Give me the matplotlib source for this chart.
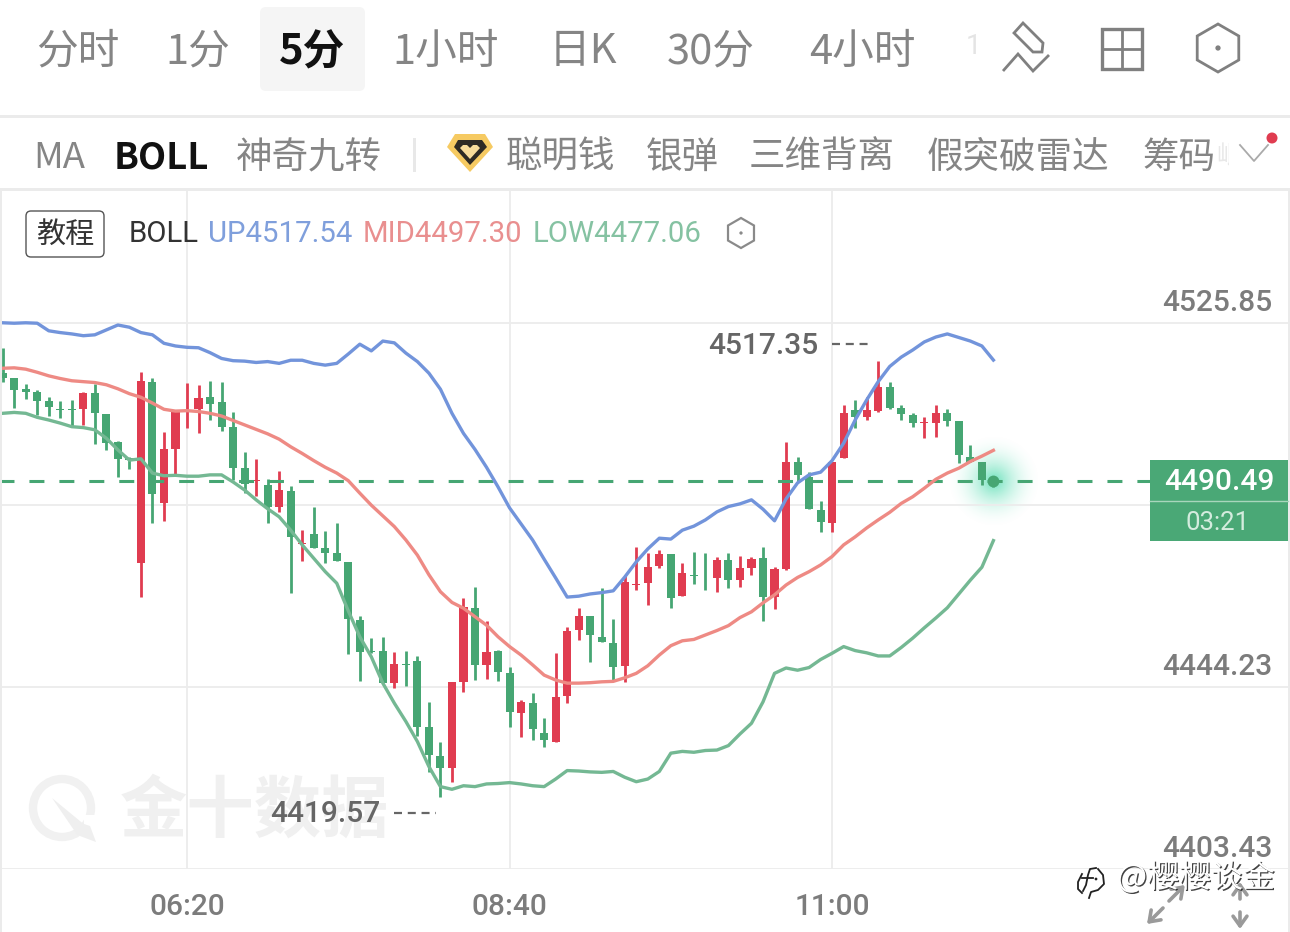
import numpy as np
import matplotlib
matplotlib.use("Agg")
import matplotlib.pyplot as plt
from matplotlib.patches import FancyBboxPatch, Rectangle, Polygon, Circle
from matplotlib.transforms import ScaledTranslation
import matplotlib.patheffects as pe

CJK = ['Noto Sans CJK SC', 'DejaVu Sans']
NUM = ['Roboto', 'DejaVu Sans']
plt.rcParams['font.family'] = CJK

# ---------------- data ----------------
index = list(range(-16, 71))
highs = [4520.3,4513.5,4512.2,4510.8,4509.3,4508.4,4508.6,4510.4,4512.2,4505.5,
         4499.4,4495.8,4514.9,4513.5,4501.4,4505.9,4512.4,4512.0,4512.9,4512.6,
         4505.9,4496.9,4495.4,4490.9,4492.7,4489.3,4479.4,4484.6,4479.2,4481.0,
         4472.3,4460.2,4455.2,4455.5,4452.1,4452.3,4451.2,4440.9,4431.9,4445.4,
         4464.2,4466.7,4459.0,4452.5,4448.7,4441.3,4442.9,4437.3,4451.9,4457.7,
         4462.0,4460.2,4466.5,4459.5,4469.4,4475.7,4474.3,4475.0,4474.1,4472.0,
         4474.5,4474.3,4473.4,4474.3,4473.6,4473.4,4475.7,4471.2,4499.2,4495.8,
         4492.5,4486.0,4494.7,4507.5,4508.6,4509.3,4517.35,4512.6,4507.5,4505.7,
         4504.8,4507.5,4506.6,4503.9,4498.5,4494.7,4491.1]
lows = [4512.6,4506.8,4508.8,4505.2,4505.0,4504.6,4502.6,4503.0,4498.7,4497.4,
        4491.3,4493.1,4464.4,4481.0,4481.5,4491.8,4502.3,4501.2,4504.1,4501.6,
        4490.7,4487.8,4487.1,4481.0,4483.5,4465.3,4472.5,4475.4,4472.0,4472.5,
        4451.6,4445.6,4451.9,4445.1,4444.0,4444.5,4433.3,4425.2,4419.57,4423.0,
        4443.1,4445.8,4446.1,4445.6,4435.3,4433.1,4432.4,4430.8,4431.9,4440.7,
        4454.8,4449.9,4454.3,4445.8,4445.4,4466.0,4462.6,4470.9,4462.0,4464.6,
        4467.3,4466.0,4465.6,4466.4,4466.7,4469.3,4459.0,4461.7,4470.5,4490.2,
        4484.1,4479.0,4479.0,4495.6,4502.3,4504.1,4505.9,4506.6,4504.1,4502.5,
        4500.1,4500.3,4502.8,4494.5,4494.7,4489.6,4489.1]
opens = [4514.6,4513.5,4511.1,4510.4,4508.4,4506.6,4506.6,4506.6,4510.2,4505.5,
         4499.2,4495.6,4472.0,4512.6,4485.5,4497.6,4506.1,4506.6,4509.3,4508.1,
         4502.5,4493.4,4490.4,4489.6,4484.6,4488.2,4476.3,4478.6,4475.4,4474.3,
         4472.3,4459.3,4452.3,4452.3,4445.1,4449.4,4450.1,4435.3,4428.8,4426.1,
         4445.4,4462.0,4449.2,4452.3,4447.4,4438.4,4440.7,4433.9,4431.9,4442.2,
         4457.0,4460.2,4455.5,4454.1,4449.0,4467.1,4467.6,4471.4,4474.1,4464.6,
         4469.4,4469.0,4468.7,4472.7,4468.2,4470.9,4473.2,4464.4,4470.7,4494.7,
         4491.3,4483.9,4481.0,4495.6,4506.3,4504.8,4506.1,4511.5,4506.8,4505.2,
         4503.4,4503.4,4505.7,4503.9,4495.8,4494.7,4491.1]
closes = [4513.5,4510.8,4510.4,4508.4,4507.0,4506.3,4506.4,4510.2,4505.7,4499.0,
          4495.4,4495.1,4512.9,4487.5,4497.6,4505.9,4506.3,4509.1,4507.7,4502.5,
          4493.4,4489.8,4490.7,4484.6,4488.4,4477.9,4476.5,4475.4,4474.3,4472.5,
          4459.5,4452.1,4452.1,4445.1,4449.4,4449.2,4435.3,4429.0,4426.1,4445.4,
          4462.2,4449.2,4452.1,4447.6,4438.6,4440.9,4434.8,4432.4,4442.0,4456.8,
          4460.2,4455.9,4454.3,4448.7,4467.8,4467.3,4471.2,4474.1,4464.2,4469.8,
          4469.1,4468.8,4472.7,4468.2,4470.9,4473.0,4464.4,4470.7,4494.7,4491.8,
          4484.1,4481.3,4494.7,4505.7,4504.8,4506.3,4511.5,4506.8,4505.5,4503.4,
          4503.6,4505.7,4503.9,4496.3,4494.7,4490.7,4490.49]
boll_up = [4525.9,4525.8,4525.9,4525.8,4524.1,4523.7,4523.4,4523.0,4523.2,4524.3,
           4525.4,4524.9,4523.7,4523.2,4521.3,4520.7,4520.4,4520.3,4519.2,4517.9,
           4517.4,4517.3,4517.0,4517.2,4516.8,4517.5,4517.5,4516.8,4516.4,4516.8,
           4518.9,4521.1,4519.6,4521.8,4521.4,4519.1,4517.2,4514.6,4511.0,4505.6,
           4501.1,4497.5,4493.5,4489.1,4484.4,4480.8,4477.2,4472.9,4468.7,4464.4,
           4464.6,4465.1,4465.4,4465.8,4468.9,4472.3,4475.2,4477.6,4477.4,4479.4,
           4480.3,4481.7,4483.5,4484.7,4485.3,4486.2,4484.1,4481.5,4486.4,4490.0,
           4491.8,4492.4,4495.0,4498.9,4504.1,4508.6,4512.7,4516.1,4518.2,4519.8,
           4521.6,4522.7,4523.4,4522.6,4521.8,4520.7,4517.54]
boll_mid = [4515.7,4515.8,4515.5,4514.8,4514.0,4513.4,4512.9,4512.7,4512.5,4512.0,
            4511.1,4510.0,4509.2,4507.9,4506.5,4506.1,4506.2,4506.0,4505.6,4505.0,
            4504.0,4503.0,4502.0,4501.0,4499.8,4498.1,4496.6,4495.0,4493.5,4492.2,
            4490.5,4487.7,4485.0,4482.6,4480.2,4477.2,4473.8,4469.4,4465.6,4463.2,
            4461.9,4460.0,4458.1,4455.5,4453.3,4451.4,4449.2,4446.9,4445.8,4445.1,
            4445.1,4445.2,4445.4,4445.5,4446.3,4447.3,4449.0,4451.4,4453.5,4454.6,
            4454.9,4455.9,4456.9,4458.0,4459.8,4461.1,4463.1,4464.9,4467.1,4468.8,
            4470.1,4471.6,4473.5,4476.1,4477.9,4479.9,4481.7,4483.4,4485.4,4486.9,
            4488.8,4490.8,4492.2,4493.3,4494.8,4496.0,4497.30]
boll_low = [4505.6,4505.8,4505.6,4504.7,4504.1,4503.4,4502.6,4502.4,4501.9,4500.0,
            4497.4,4495.1,4495.4,4492.2,4491.6,4491.7,4491.5,4491.5,4491.8,4491.8,
            4490.2,4488.4,4486.2,4484.2,4482.4,4479.4,4476.1,4473.1,4470.1,4467.5,
            4461.3,4455.5,4451.0,4445.1,4440.6,4436.5,4432.0,4426.4,4421.9,4421.3,
            4422.1,4421.9,4422.5,4422.6,4422.8,4422.5,4422.1,4421.9,4423.6,4425.5,
            4425.4,4425.2,4425.1,4425.3,4424.0,4423.0,4423.6,4425.3,4429.4,4429.8,
            4429.6,4430.0,4430.1,4431.1,4433.7,4436.1,4440.9,4447.3,4448.5,4448.0,
            4448.6,4450.4,4451.8,4453.3,4452.4,4451.9,4451.2,4451.2,4453.1,4455.2,
            4457.5,4459.7,4462.0,4465.1,4468.2,4471.1,4477.06]
price_ticks = [4525.85, 4485.04, 4444.23, 4403.43]
price_tick_labels = ['4525.85', '', '4444.23', '4403.43']
time_ticks = [0, 28, 56]
time_tick_labels = ['06:20', '08:40', '11:00']
last_price = 4490.49
max_label, min_label = '4517.35', '4419.57'
tabs = ['分时', '1分', '5分', '1小时', '日K', '30分', '4小时']
indicators = ['MA', 'BOLL', '神奇九转', '聪明钱', '银弹', '三维背离', '假突破雷达', '筹码']

# ---------------- style ----------------
RED, GREEN = '#e03c50', '#46a673'
BLUE_L, RED_L, GREEN_L = '#7294db', '#ee8a84', '#74b893'
GREY = '#7c7c7c'
NUM_SIZE = 21.5
W, H = 1290, 932
fig = plt.figure(figsize=(W / 100, H / 100), dpi=100, facecolor='white')


def pix_axes(z):
    a = fig.add_axes([0, 0, 1, 1], zorder=z)
    a.set_xlim(0, W)
    a.set_ylim(H, 0)
    a.axis('off')
    a.patch.set_alpha(0)
    return a


bg = pix_axes(0)
ui = pix_axes(5)

# main chart axes: pixel rows 190..869
TOP, BOT = 190, 869
ax = fig.add_axes([0, (H - BOT) / H, 1, (BOT - TOP) / H], zorder=2)
ax.patch.set_alpha(0)
PX = 11.52
X0 = 187
PP = (4525.85 - 4403.43) / (869 - 323)
ax.set_xlim((0 - X0) / PX, (W - X0) / PX)
ax.set_ylim(4403.43, 4403.43 + (BOT - TOP) * PP)
for s in ax.spines.values():
    s.set_visible(False)
ax.set_yticks(price_ticks)
ax.set_yticklabels(price_tick_labels)
ax.set_xticks(time_ticks)
ax.set_xticklabels(time_tick_labels)
ax.yaxis.tick_right()
ax.grid(True, color='#ececec', lw=1.3)
ax.set_axisbelow(True)
ax.tick_params(axis='both', length=0)
ax.tick_params(axis='x', pad=17.5, labelsize=NUM_SIZE, labelcolor=GREY)
ax.tick_params(axis='y', pad=-12.5, labelsize=NUM_SIZE, labelcolor=GREY)
for lb in ax.get_xticklabels():
    lb.set_fontfamily(NUM)
    lb.set_fontweight('medium')
up_shift = ScaledTranslation(0, 20.5 / 100, fig.dpi_scale_trans)
for lb in ax.get_yticklabels():
    lb.set_fontfamily(NUM)
    lb.set_fontweight('medium')
    lb.set_ha('right')
    lb.set_va('center')
    lb.set_transform(lb.get_transform() + up_shift)

# candles
x = np.array(index)
o, c, h, l = map(np.array, (opens, closes, highs, lows))
colors = [RED if cc >= oo else GREEN for oo, cc in zip(o, c)]
ax.vlines(x, l, h, colors=colors, lw=2.0, zorder=3)
ax.bar(x, np.abs(c - o), bottom=np.minimum(o, c), width=0.7, color=colors, lw=0, zorder=3)

# last-price dashed line
ax.plot([x[0] - 2, (1150 - X0) / PX], [last_price, last_price], color=GREEN, lw=2.2,
        dashes=(4.9, 4.9), zorder=3.5)

# Bollinger lines
ax.plot(x, boll_up, color=BLUE_L, lw=2.4, zorder=4, solid_joinstyle='round')
ax.plot(x, boll_mid, color=RED_L, lw=2.4, zorder=4, solid_joinstyle='round')
ax.plot(x, boll_low, color=GREEN_L, lw=2.4, zorder=4, solid_joinstyle='round')
ax.plot(x[-1], last_price, 'o', ms=8.5, color=GREEN, mec='none', zorder=5)

# glow behind the latest price
gx, gy = np.meshgrid(np.linspace(-1, 1, 121), np.linspace(-1, 1, 121))
rr = np.clip(np.hypot(gx, gy), 0, 1)
rgba = np.zeros((121, 121, 4))
rgba[..., :3] = matplotlib.colors.to_rgb('#52dcb0')
rgba[..., 3] = 0.85 * (1 - rr) ** 2.0
bg.imshow(rgba, extent=(994 - 48, 994 + 48, 481 + 48, 481 - 48), zorder=1, aspect='auto')
bg.set_xlim(0, W)
bg.set_ylim(H, 0)

# watermark
bg.add_patch(Circle((62, 808), 29, fill=False, ec='#f1f1f1', lw=6))
bg.add_patch(Polygon([[52, 798], [86, 826], [78, 836]], fc='#efefef', ec='none'))
bg.add_patch(Rectangle((84, 815), 20, 30, fc='white', ec='none', zorder=2))
bg.add_patch(Polygon([[78, 822], [90, 826], [96, 842], [80, 836]], fc='#efefef', ec='none', zorder=3))
bg.text(254, 812, '金十数据', fontsize=48.5, fontweight='bold', color='#f0f0f0',
        ha='center', va='center', family=CJK)

# ---------------- tab row ----------------
ui.add_patch(FancyBboxPatch((264, 11), 97, 76, boxstyle='round,pad=4,rounding_size=6',
                            fc='#f5f5f5', ec='none'))
tab_xy = [(78, 52), (198, 52), (312, 52), (446, 52), (583, 52), (711, 52), (862, 52)]
for t, (tx, ty) in zip(tabs, tab_xy):
    sel = t == '5分'
    ui.text(tx, ty, t, fontsize=30, ha='center', va='center', family=CJK,
            color='#111111' if sel else '#858585', fontweight='bold' if sel else 'normal')
ui.text(973, 46, '1', fontsize=20, color='#e4e4e4', ha='center', va='center', family=NUM)

ic = dict(color='#808080', lw=2.0, solid_joinstyle='miter', solid_capstyle='butt')
ui.add_patch(Polygon([[1023, 23], [1043, 43], [1042, 52], [1033, 52], [1014, 33]],
                     fill=False, ec='#808080', lw=2.0))
ui.plot([1003, 1018, 1033, 1049], [71, 54, 71, 55], **ic)
ui.add_patch(Rectangle((1102, 29), 40, 40, fill=False, ec='#808080', lw=2.4))
ui.plot([1122, 1122], [29, 69], **ic)
ui.plot([1102, 1142], [49, 49], **ic)


def hexagon(cx, cy, r, lw, col):
    ang = np.deg2rad(np.arange(90, 450, 60))
    ui.add_patch(Polygon(np.c_[cx + r * np.cos(ang), cy + r * np.sin(ang)], closed=True,
                         fill=False, ec=col, lw=lw))
    ui.add_patch(Circle((cx, cy), r * 0.11, fc=col, ec='none'))


hexagon(1218, 48, 24, 2.0, '#808080')
hexagon(741, 233, 15, 1.6, '#8a8a8a')

# separators
ui.add_patch(Rectangle((0, 115), W, 3, fc='#ebebeb', ec='none'))
ui.add_patch(Rectangle((0, 188), W, 3, fc='#ebebeb', ec='none'))
ui.add_patch(Rectangle((0, 190), 2, 742, fc='#ebebeb', ec='none'))
ui.add_patch(Rectangle((1288, 190), 2, 742, fc='#ebebeb', ec='none'))

# ---------------- indicator row ----------------
ind_xy = [(59, 158), (161, 158), (309, 158), (560, 158), (682, 158), (822, 158), (1018, 158), (1179, 158)]
for t, (tx, ty) in zip(indicators, ind_xy):
    sel = t == 'BOLL'
    ui.text(tx, ty, t, fontsize=26.3, ha='center', va='center', family=CJK,
            color='#111111' if sel else '#858585', fontweight='bold' if sel else 'normal')
fade = ui.text(1229, 157, '岷', fontsize=18, ha='center', va='center', family=CJK, color='#e8e8e8',
               clip_on=True)
fade.set_clip_path(Rectangle((1217, 130), 12, 60, transform=ui.transData))
ui.add_patch(Rectangle((413, 138), 2.5, 34, fc='#e8e8e8', ec='none'))
ui.add_patch(Polygon([[455, 134], [485, 134], [493, 147], [470, 172], [447, 147]], fc='#f6ca62', ec='none'))
ui.add_patch(Polygon([[458, 140], [482, 140], [487, 147], [470, 165], [454, 147]], fc='#2e2a24', ec='none'))
ui.add_patch(Polygon([[463, 145], [477, 145], [480, 148], [470, 159], [460, 148]], fc='#f8dc9a', ec='none'))
ui.add_patch(Polygon([[465, 143], [475, 143], [470, 148]], fc='#2e2a24', ec='none'))
ui.plot([1240, 1254, 1268], [145, 161, 145], color='#aaaaaa', lw=1.3)
ui.add_patch(Circle((1272, 138), 5.5, fc='#e03c50', ec='none'))

# ---------------- legend row ----------------
ui.add_patch(FancyBboxPatch((29, 214), 72, 40, boxstyle='round,pad=3,rounding_size=5',
                            fc='white', ec='#555555', lw=1.0))
ui.text(65, 235, '教程', fontsize=21, color='#333333', ha='center', va='center', family=CJK)
for s, xp, col in [('BOLL', 129, '#333333'), ('UP4517.54', 208, '#7f9fdc'),
                   ('MID4497.30', 363, '#e98f8f'), ('LOW4477.06', 533, '#85c2a2')]:
    ui.text(xp, 234, s, fontsize=21.2, color=col, ha='left', va='center', family=NUM)

# ---------------- max / min labels ----------------
ui.text(818, 346, max_label, fontsize=NUM_SIZE, color='#666666', ha='right', va='center',
        family=NUM, fontweight='medium')
ui.plot([832, 873], [344, 344], color='#666666', lw=1.6, dashes=(3.6, 2.6))
ui.text(380, 814, min_label, fontsize=NUM_SIZE, color='#666666', ha='right', va='center',
        family=NUM, fontweight='medium')
ui.plot([394, 436], [813, 813], color='#666666', lw=1.6, dashes=(3.6, 2.6))

# ---------------- price tag ----------------
ui.add_patch(Rectangle((1150, 460), 138, 81, fc='#4aa876', ec='none'))
ui.plot([1150, 1288], [501, 501], color='#a8d6bc', lw=1.0)
ui.text(1219, 482, '4490.49', fontsize=NUM_SIZE, color='white', ha='center', va='center',
        family=NUM, fontweight='medium')
ui.text(1218, 523, '03:21', fontsize=18.5, color='#d4ecde', ha='center', va='center', family=NUM)

# ---------------- bottom-right icons and credit ----------------
arr = dict(arrowstyle='->,head_length=0.7,head_width=0.5', color='#9a9a9a', lw=2.6, shrinkA=0, shrinkB=0)
ui.annotate('', xy=(1185, 885), xytext=(1169, 901), arrowprops=arr)
ui.annotate('', xy=(1147, 924), xytext=(1163, 908), arrowprops=arr)
ui.annotate('', xy=(1240, 882), xytext=(1240, 899), arrowprops=arr)
ui.annotate('', xy=(1240, 929), xytext=(1240, 912), arrowprops=arr)
shadow = [pe.withSimplePatchShadow(offset=(0.9, -0.9), shadow_rgbFace='#222222', alpha=0.85)]
ui.text(1196, 878, '@樱樱谈金', fontsize=23, color='white', ha='center', va='center', family=CJK,
        path_effects=shadow)
for px_, py_ in [([1098, 1103, 1104, 1098, 1091, 1089], [869, 875, 884, 890, 892, 898]),
                 ([1082, 1078, 1078, 1082], [874, 882, 889, 893]),
                 ([1096, 1090, 1088, 1086, 1083], [868, 869, 875, 885, 891]),
                 ([1082, 1093], [878, 878])]:
    ui.plot(px_, py_, color='#222222', lw=1.3)
ui.add_patch(Circle((1096, 879), 1.4, fc='#222222', ec='none'))

fig.savefig('out.png', dpi=100, facecolor='white')
